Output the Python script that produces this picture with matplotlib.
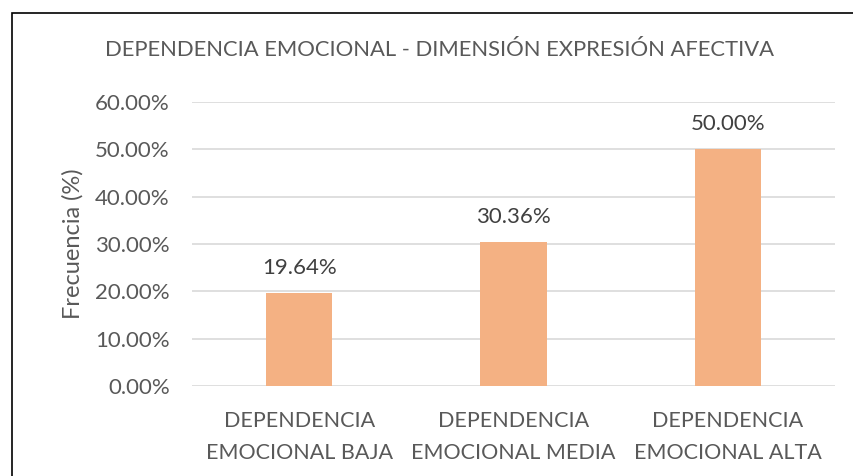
import matplotlib.pyplot as plt
from matplotlib.patches import Rectangle

categorias = ["DEPENDENCIA\nEMOCIONAL BAJA", "DEPENDENCIA\nEMOCIONAL MEDIA", "DEPENDENCIA\nEMOCIONAL ALTA"]
frecuencia = [19.64, 30.36, 50.00]
ticks_y = [0, 10, 20, 30, 40, 50, 60]

gris = "#595959"
plt.rcParams['font.family'] = ['Lato', 'DejaVu Sans']

fig = plt.figure(figsize=(8.54, 4.76), dpi=100)
# plot area in pixels: x 192-835, y 102-386
W, H = 854, 476
ax = fig.add_axes([192 / W, 1 - 386 / H, (835 - 192) / W, (386 - 102) / H])

x = range(len(categorias))
ax.bar(x, frecuencia, width=0.31, color="#F4B183", zorder=2)
for xi, v in zip(x, frecuencia):
    ax.annotate(f"{v:.2f}%", (xi, v), xytext=(0, 15), textcoords="offset pixels",
                ha="center", va="bottom", fontsize=16, color="#404040")

ax.set_xlim(-0.5, len(categorias) - 0.5)
ax.set_ylim(0, 60)
ax.set_yticks(ticks_y)
ax.set_yticklabels([f"{t:.2f}%" for t in ticks_y], fontsize=16, color=gris)
ax.set_xticks(list(x))
ax.set_xticklabels(categorias, fontsize=15.5, color=gris, linespacing=1.75)
ax.tick_params(length=0, pad=16)
ax.tick_params(axis="x", pad=18)
ax.grid(axis="y", color="#D9D9D9", linewidth=1.2, zorder=0)
for s in ax.spines.values():
    s.set_visible(False)

ax.set_ylabel("Frecuencia (%)", fontsize=17, color=gris, labelpad=8)
fig.text(440 / W, 1 - 50 / H, "DEPENDENCIA EMOCIONAL - DIMENSIÓN EXPRESIÓN AFECTIVA",
         ha="center", va="center", fontsize=15.8, color=gris)

# chart border (left and top visible)
fig.add_artist(Rectangle((12 / W, -0.1), 1.2, 1 - 13 / H + 0.1, transform=fig.transFigure,
                         fill=False, edgecolor="black", linewidth=1.2))

fig.savefig("out.png", dpi=100)
